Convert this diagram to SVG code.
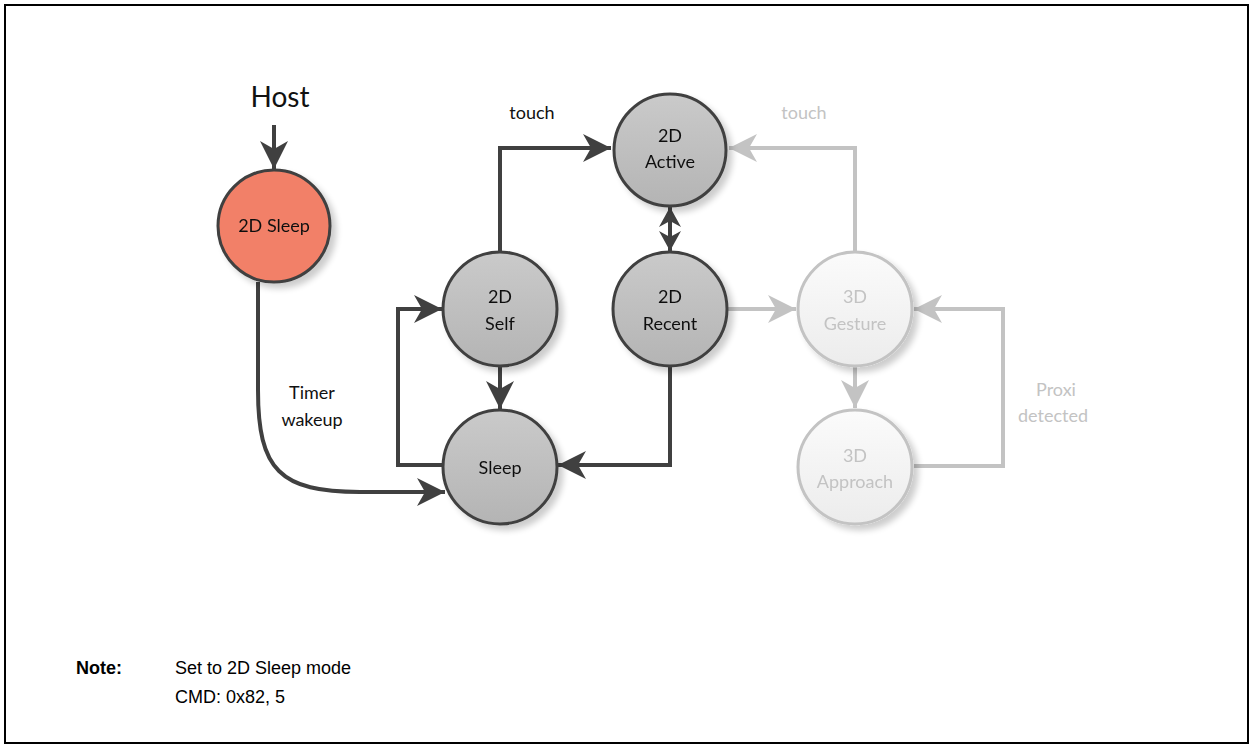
<svg xmlns="http://www.w3.org/2000/svg" width="1251" height="746" viewBox="0 0 1251 746">
<style>
.node{stroke:#404040;stroke-width:3}
.g2{fill:url(#gGray)}
.g3{fill:url(#gLight);stroke:#c3c3c3;stroke-width:3}
.t{font-family:Lato,"Open Sans",sans-serif;font-size:18px;fill:#111;text-anchor:middle}
.tl{font-family:Lato,"Open Sans",sans-serif;font-size:18px;fill:#c3c3c3;text-anchor:middle}
.c{fill:none;stroke:#404040;stroke-width:4}
.cl{fill:none;stroke:#c3c3c3;stroke-width:4}
.n{font-family:"Liberation Sans",Arial,sans-serif;font-size:18px;fill:#000}
</style>
<defs>
<linearGradient id="gGray" x1="0" y1="0" x2="0" y2="1"><stop offset="0" stop-color="#cacaca"/><stop offset="1" stop-color="#b4b4b4"/></linearGradient>
<linearGradient id="gLight" x1="0" y1="0" x2="0" y2="1"><stop offset="0" stop-color="#fbfbfb"/><stop offset="1" stop-color="#ececec"/></linearGradient>
<filter id="sh" x="-20%" y="-20%" width="150%" height="150%"><feGaussianBlur in="SourceAlpha" stdDeviation="3"/><feOffset dx="5" dy="5"/><feComponentTransfer><feFuncA type="linear" slope="0.2"/></feComponentTransfer><feMerge><feMergeNode/><feMergeNode in="SourceGraphic"/></feMerge></filter>
<marker id="ad" viewBox="0 0 28 28" refX="28" refY="14" markerWidth="28" markerHeight="28" markerUnits="userSpaceOnUse" orient="auto-start-reverse"><path d="M0,0 L28,14 L0,28 L8,14 Z" fill="#404040"/></marker>
<marker id="as" viewBox="0 0 20 22" refX="20" refY="11" markerWidth="20" markerHeight="22" markerUnits="userSpaceOnUse" orient="auto-start-reverse"><path d="M0,0 L20,11 L0,22 L6,11 Z" fill="#404040"/></marker>
<marker id="al" viewBox="0 0 28 28" refX="28" refY="14" markerWidth="28" markerHeight="28" markerUnits="userSpaceOnUse" orient="auto-start-reverse"><path d="M0,0 L28,14 L0,28 L8,14 Z" fill="#c3c3c3"/></marker>
</defs>
<rect x="5" y="5" width="1243" height="738" fill="#fff" stroke="#000" stroke-width="2"/>
<text x="280" y="107" font-family="Lato,'Open Sans',sans-serif" font-size="28" fill="#111" text-anchor="middle">Host</text>
<g id="connectors">
<path class="c" d="M274,125 V169" marker-end="url(#ad)"/>
<path class="c" d="M500,252 V148 H611" marker-end="url(#ad)"/>
<path class="c" d="M670,207 V251" marker-start="url(#as)" marker-end="url(#as)"/>
<path class="c" d="M500,366 V409" marker-end="url(#ad)"/>
<path class="c" d="M443,465 H398 V309 H442" marker-end="url(#ad)"/>
<path class="c" d="M670,366 V465 H558" marker-end="url(#ad)"/>
<path class="c" d="M258,282 V390 C258,470 280,492 360,492 H445" marker-end="url(#ad)"/>
<path class="cl" d="M728,309 H796" marker-end="url(#al)"/>
<path class="cl" d="M855,251 V148 H729" marker-end="url(#al)"/>
<path class="cl" d="M855,366 V408" marker-end="url(#al)"/>
<path class="cl" d="M914,466 H1003 V309 H914" marker-end="url(#al)"/>
</g>
<text class="t" x="532" y="119">touch</text>
<text class="tl" x="804" y="119">touch</text>
<text class="t" x="312" y="399">Timer</text>
<text class="t" x="312" y="426">wakeup</text>
<text class="tl" x="1056" y="396">Proxi</text>
<text class="tl" x="1053" y="422">detected</text>
<g id="n2DSleep" filter="url(#sh)"><circle cx="274" cy="226" r="56" class="node" fill="#f28068"/><text class="t" x="274" y="232">2D Sleep</text></g>
<g id="n2DActive" filter="url(#sh)"><circle cx="670" cy="150" r="56" class="node g2"/><text class="t" x="670" y="142">2D</text><text class="t" x="670" y="168">Active</text></g>
<g id="n2DSelf" filter="url(#sh)"><circle cx="500" cy="309" r="57" class="node g2"/><text class="t" x="500" y="303">2D</text><text class="t" x="500" y="330">Self</text></g>
<g id="n2DRecent" filter="url(#sh)"><circle cx="670" cy="309" r="57" class="node g2"/><text class="t" x="670" y="303">2D</text><text class="t" x="670" y="330">Recent</text></g>
<g id="nSleep" filter="url(#sh)"><circle cx="500" cy="467" r="57" class="node g2"/><text class="t" x="500" y="474">Sleep</text></g>
<g id="n3DGesture" filter="url(#sh)"><circle cx="855" cy="309" r="57" class="g3"/><text class="tl" x="855" y="303">3D</text><text class="tl" x="855" y="330">Gesture</text></g>
<g id="n3DApproach" filter="url(#sh)"><circle cx="855" cy="467" r="57" class="g3"/><text class="tl" x="855" y="462">3D</text><text class="tl" x="855" y="488">Approach</text></g>
<text class="n" x="76" y="674" font-weight="bold">Note:</text>
<text class="n" x="175" y="674">Set to 2D Sleep mode</text>
<text class="n" x="175" y="703">CMD: 0x82, 5</text>
</svg>
